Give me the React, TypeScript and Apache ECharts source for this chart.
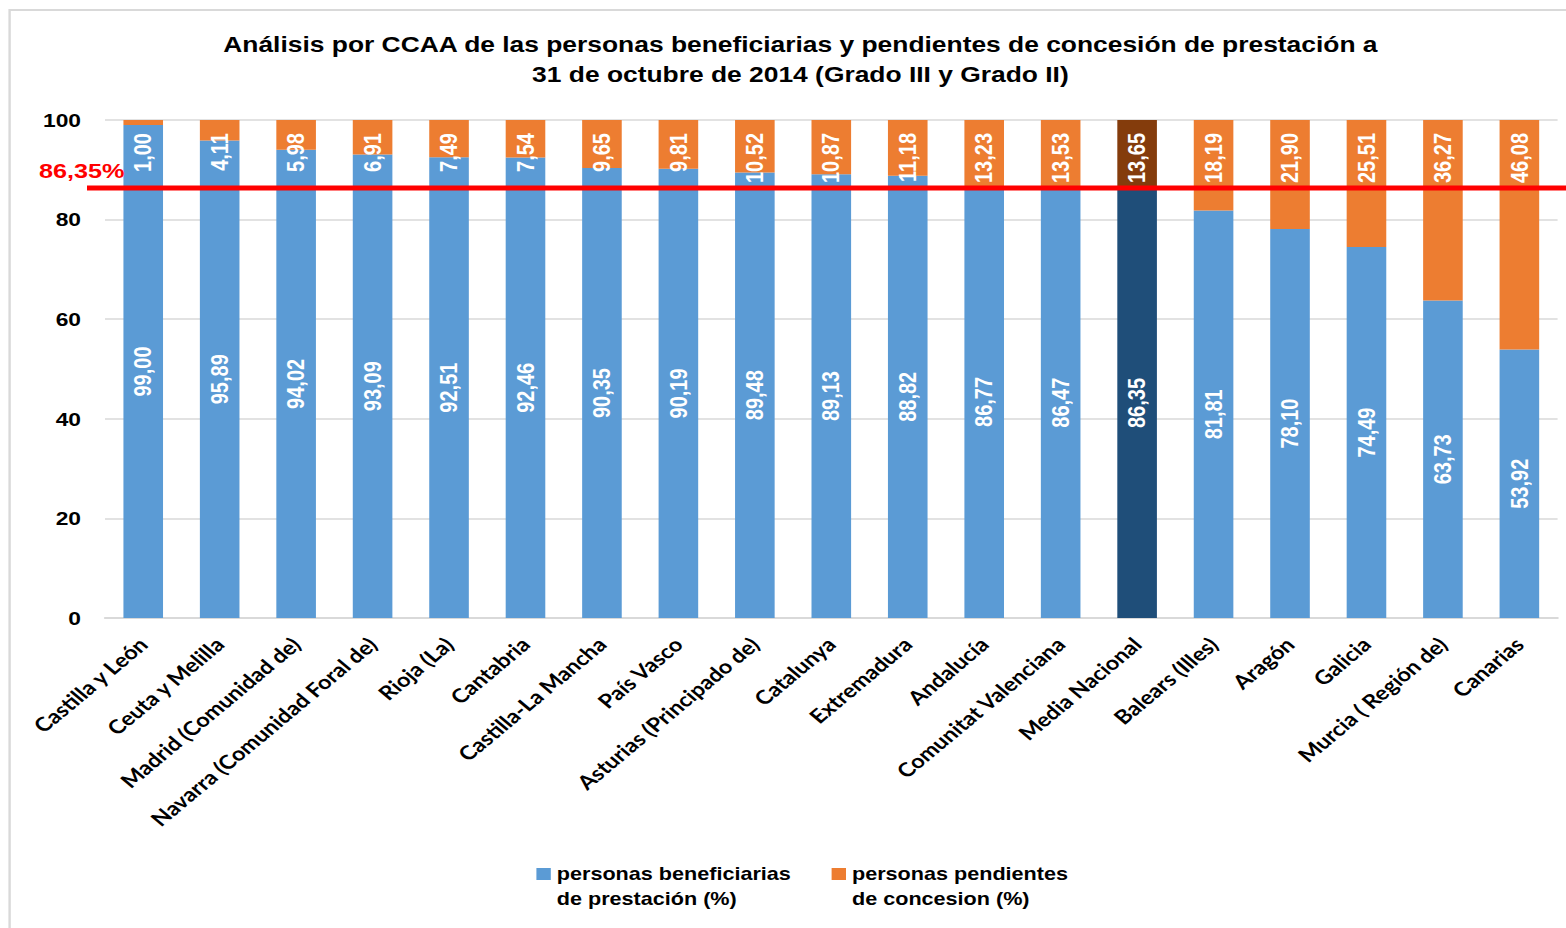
import React, { useEffect, useRef } from 'react';
import * as echarts from 'echarts';

const categories = [
  'Castilla y León', 'Ceuta y Melilla', 'Madrid (Comunidad de)', 'Navarra (Comunidad Foral de)',
  'Rioja (La)', 'Cantabria', 'Castilla-La Mancha', 'País Vasco', 'Asturias (Principado de)',
  'Catalunya', 'Extremadura', 'Andalucía', 'Comunitat Valenciana', 'Media Nacional',
  'Balears (Illes)', 'Aragón', 'Galicia', 'Murcia ( Región de)', 'Canarias',
];
const beneficiarias = [99.0, 95.89, 94.02, 93.09, 92.51, 92.46, 90.35, 90.19, 89.48, 89.13, 88.82, 86.77, 86.47, 86.35, 81.81, 78.1, 74.49, 63.73, 53.92];
const pendientes = [1.0, 4.11, 5.98, 6.91, 7.49, 7.54, 9.65, 9.81, 10.52, 10.87, 11.18, 13.23, 13.53, 13.65, 18.19, 21.9, 25.51, 36.27, 46.08];
const mediaNacional = 86.35;
const mediaLabel = '86,35%';
const highlightIndex = 13;
const seriesNames = ['personas beneficiarias\nde prestación (%)', 'personas pendientes\nde concesion (%)'];
const titleText = 'Análisis por CCAA de las personas beneficiarias y pendientes de concesión de prestación a\n31 de octubre de 2014 (Grado III y Grado II)';

const W = 1305;
const H = 928;
const FONT = '"Liberation Sans", Arial, sans-serif';

export default function App() {
  const ref = useRef<HTMLDivElement>(null);
  useEffect(() => {
    const chart = echarts.init(ref.current as HTMLDivElement, null, { renderer: 'svg', width: W, height: H });
    const fmt = (p: any) => Number(p.value).toFixed(2).replace('.', ',');
    const legendText = {
      fontSize: 18, fontWeight: 'bold', fontFamily: FONT, color: '#000', lineHeight: 25,
    };
    const legendFmt = (name: string) => '\n' + name;
    chart.setOption({
      animation: false,
      title: {
        text: titleText,
        left: 667, top: 29, textAlign: 'center', padding: 0,
        textStyle: { fontSize: 22, fontWeight: 'bold', fontFamily: FONT, color: '#000', lineHeight: 30 },
      },
      legend: [
        { data: [seriesNames[0]], formatter: legendFmt, left: 447, top: 836.5, padding: 0, itemWidth: 12, itemHeight: 12, itemGap: 0, icon: 'rect', textStyle: legendText },
        { data: [seriesNames[1]], formatter: legendFmt, left: 693, top: 836.5, padding: 0, itemWidth: 12, itemHeight: 12, itemGap: 0, icon: 'rect', textStyle: legendText },
      ],
      grid: { left: 87.5, right: 7, top: 120, bottom: 310, outerBoundsMode: 'none' },
      xAxis: {
        type: 'category', data: categories,
        axisLine: { lineStyle: { color: '#D9D9D9', width: 2 } },
        axisTick: { show: false },
        axisLabel: { interval: 0, rotate: 45, margin: 23, fontSize: 19.5, fontWeight: 'bold', fontFamily: 'Lato, "Open Sans", sans-serif', color: '#000' },
      },
      yAxis: {
        type: 'value', min: 0, max: 100, interval: 20,
        axisLine: { show: false }, axisTick: { show: false },
        splitLine: { lineStyle: { color: '#D9D9D9', width: 1.5 } },
        axisLabel: { margin: 20, fontSize: 19, fontWeight: 'bold', fontFamily: FONT, color: '#000' },
      },
      series: [
        {
          name: seriesNames[0], type: 'bar', stack: 'total', barWidth: 33,
          itemStyle: { color: '#5B9BD5' },
          data: beneficiarias.map((v, i) => (i === highlightIndex ? { value: v, itemStyle: { color: '#1F4E79' } } : v)),
          label: { show: true, position: 'inside', rotate: 90, formatter: fmt, color: '#fff', fontSize: 20, fontWeight: 'bold', fontFamily: FONT },
        },
        {
          name: seriesNames[1], type: 'bar', stack: 'total', barWidth: 33,
          itemStyle: { color: '#ED7D31' },
          data: pendientes.map((v, i) => (i === highlightIndex ? { value: v, itemStyle: { color: '#843C0C' } } : v)),
          label: {
            show: true, position: 'insideTop', distance: 13, rotate: 90, align: 'right', verticalAlign: 'middle',
            formatter: fmt, color: '#fff', fontSize: 20, fontWeight: 'bold', fontFamily: FONT,
          },
        },
      ],
      graphic: [
        { id: 'frame', type: 'rect', z: -10, shape: { x: 8, y: 10, width: 1400, height: 1000 }, style: { fill: 'none', stroke: '#D9D9D9', lineWidth: 2 } },
      ],
    });
    const yPix = chart.convertToPixel({ yAxisIndex: 0 }, mediaNacional) as number;
    chart.setOption({
      graphic: [
        { id: 'frame', type: 'rect', z: -10, shape: { x: 8, y: 10, width: 1400, height: 1000 }, style: { fill: 'none', stroke: '#D9D9D9', lineWidth: 2 } },
        { id: 'mediaLine', type: 'line', z: 100, shape: { x1: 72.5, y1: yPix, x2: 1320, y2: yPix }, style: { stroke: '#FF0000', lineWidth: 5 } },
        { id: 'mediaText', type: 'text', z: 100, x: 32.5, y: yPix - 17, style: { text: mediaLabel, fill: '#FF0000', font: `bold 21px ${FONT}`, verticalAlign: 'middle', align: 'left' } },
      ],
    });
    return () => chart.dispose();
  }, []);
  return (
    <div
      ref={ref}
      style={{ position: 'absolute', left: 0, top: 0, width: W, height: H, transform: 'scaleX(1.2)', transformOrigin: '0 0' }}
    />
  );
}
